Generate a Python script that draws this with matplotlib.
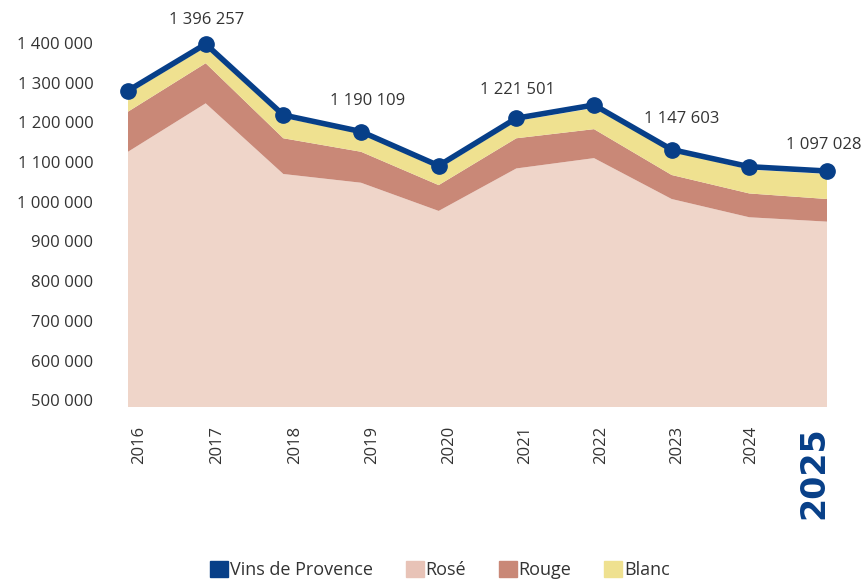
import matplotlib.pyplot as plt
from matplotlib.patches import Patch
from matplotlib.transforms import ScaledTranslation

plt.rcParams['font.family'] = ['Open Sans', 'DejaVu Sans']

# données
years = [2016, 2017, 2018, 2019, 2020, 2021, 2022, 2023, 2024, 2025]
rose = [1126000, 1248000, 1070000, 1048000, 977000, 1084000, 1110000, 1007000, 961000, 950000]
rouge = [101000, 101000, 90000, 78000, 65000, 76000, 73000, 60500, 60000, 57000]
blanc = [45000, 41000, 51000, 47000, 41000, 43500, 53000, 60500, 60000, 63000]
provence = [1286300, 1396257, 1229000, 1190109, 1109600, 1221501, 1252600, 1147603, 1107200, 1097028]
label_years = [2017, 2019, 2021, 2023, 2025]
label_text = ['1 396 257', '1 190 109', '1 221 501', '1 147 603', '1 097 028']
label_offsets = [(1, 17), (5, 22), (1, 20), (7, 22), (-2, 19)]
# décalage horizontal des années (pixels)
year_shift = [11, 11, 12, 11.5, 10, 8.5, 7.5, 5, 2, -13]

navy = '#073f88'
c_rose = '#efd5c9'
c_rouge = '#c98877'
c_blanc = '#efe190'
txt = '#333333'

fig = plt.figure(figsize=(8.64, 5.8), dpi=100)
ax = fig.add_axes([128 / 864, 1 - 407 / 580, (827 - 128) / 864, (407 - 20) / 580])

ax.stackplot(years, rose, rouge, blanc, colors=[c_rose, c_rouge, c_blanc], linewidth=0)
ax.set_xlim(2016, 2025)
ax.set_ylim(483100, 1457900)
ax.set_yticks(range(500000, 1400001, 100000))
ax.set_yticklabels([f'{v:,}'.replace(',', ' ') for v in range(500000, 1400001, 100000)],
                   fontsize=12, color=txt)
ax.set_xticks([])
ax.tick_params(axis='y', length=0, pad=25)
for s in ax.spines.values():
    s.set_visible(False)

# années sous l'axe
for i, (y, dx) in enumerate(zip(years, year_shift)):
    tr = ax.get_xaxis_transform() + ScaledTranslation(dx / 100, -0.19, fig.dpi_scale_trans)
    if y == years[-1]:
        ax.text(y, 0, str(y), transform=tr, rotation=90, ha='center', va='top',
                fontsize=24, fontweight='bold', family='DejaVu Sans', color=navy)
    else:
        ax.text(y, 0, str(y), transform=tr, rotation=90, ha='center', va='top',
                fontsize=12, color=txt)

# ligne sur un axe secondaire
ax2 = ax.twinx()
ax2.set_ylim(541000, 1452900)
ax2.plot(years, provence, color=navy, linewidth=4, marker='o', markersize=11, clip_on=False, zorder=5)
ax2.axis('off')
for y, t, off in zip(label_years, label_text, label_offsets):
    ax2.annotate(t, (y, provence[years.index(y)]), xytext=off, textcoords='offset points',
                 ha='center', va='center', fontsize=12, color=txt)

handles = [Patch(color=navy), Patch(color='#e8c3b7'), Patch(color=c_rouge), Patch(color=c_blanc)]
fig.legend(handles, ['Vins de Provence', 'Rosé', 'Rouge', 'Blanc'], loc='center',
           bbox_to_anchor=(440 / 864, 1 - 570 / 580), ncol=4, frameon=False, fontsize=13,
           handlelength=1.0, handleheight=1.0, handletextpad=0.1, columnspacing=1.8,
           labelcolor=txt)

fig.savefig('out.png', dpi=100)
